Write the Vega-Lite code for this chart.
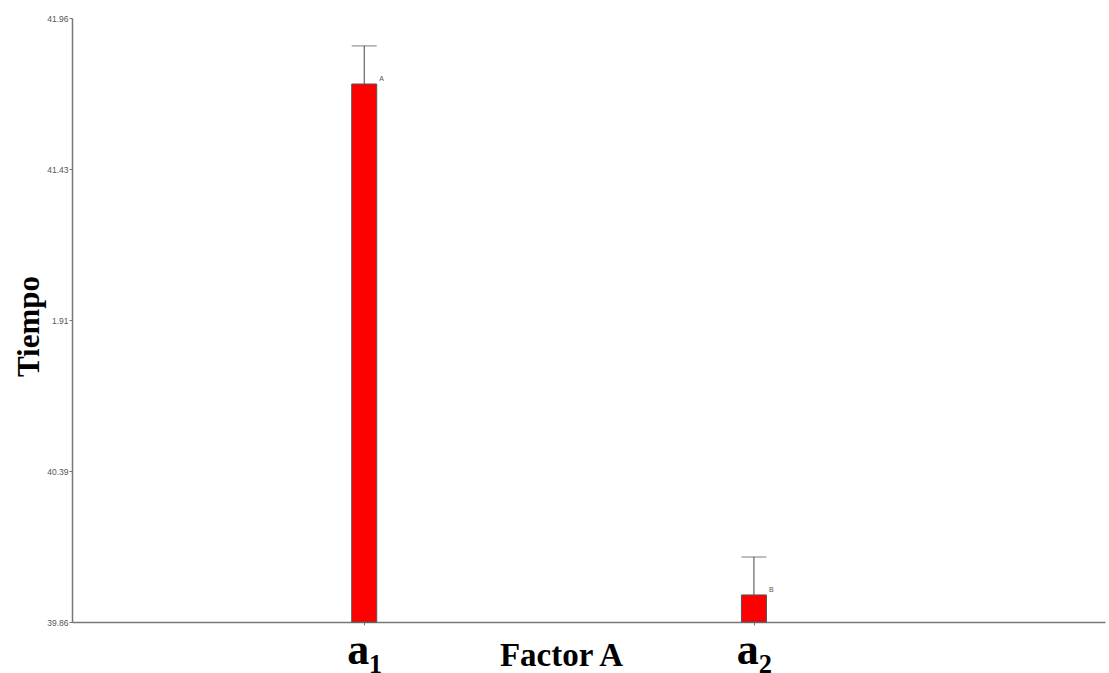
{
  "$schema": "https://vega.github.io/schema/vega-lite/v6.json",
  "autosize": "none",
  "width": 1033,
  "height": 604,
  "padding": {"left": 72, "top": 18, "right": 4, "bottom": 51},
  "background": "white",
  "config": {"view": {"stroke": null}},
  "data": {"values": [
    {"factor": 1, "nivel": "a1", "media": 41.7305, "sup": 41.863, "letra": "A"},
    {"factor": 2, "nivel": "a2", "media": 39.954, "sup": 40.086, "letra": "B"}
  ]},
  "encoding": {
    "x": {
      "field": "factor", "type": "quantitative",
      "scale": {"domain": [0.263, 2.888], "nice": false, "zero": false},
      "axis": {
        "values": [1, 2],
        "labelExpr": "datum.value == 1 ? 'a₁' : 'a₂'",
        "title": "Factor A",
        "grid": false,
        "domainColor": "#777777", "domainWidth": 1.5,
        "tickColor": "#777777", "tickSize": 3,
        "labelFont": "Liberation Serif", "labelFontWeight": "bold", "labelFontSize": 44,
        "labelColor": "#000000", "labelBaseline": "alphabetic", "labelPadding": 38,
        "titleFont": "Liberation Serif", "titleFontWeight": "bold", "titleFontSize": 33,
        "titleColor": "#000000", "titleBaseline": "alphabetic", "titleAlign": "center",
        "titleX": 489, "titleY": 43
      }
    }
  },
  "layer": [
    {
      "mark": {"type": "rule", "color": "#444444", "strokeWidth": 1},
      "encoding": {
        "y": {"field": "media", "type": "quantitative"},
        "y2": {"field": "sup"}
      }
    },
    {
      "mark": {"type": "tick", "orient": "horizontal", "color": "#444444", "size": 25, "thickness": 1},
      "encoding": {
        "y": {"field": "sup", "type": "quantitative"}
      }
    },
    {
      "mark": {"type": "bar", "size": 25, "color": "#FF0000", "stroke": "#555555", "strokeWidth": 1},
      "encoding": {
        "y": {
          "field": "media", "type": "quantitative",
          "scale": {"domain": [39.86, 41.96], "nice": false, "zero": false},
          "axis": {
            "values": [39.86, 40.385, 40.91, 41.435, 41.96],
            "labelExpr": "datum.value < 40 ? '39.86' : datum.value < 40.5 ? '40.39' : datum.value < 41 ? '1.91' : datum.value < 41.5 ? '41.43' : '41.96'",
            "title": "Tiempo",
            "grid": false,
            "domainColor": "#777777", "domainWidth": 1.5,
            "tickColor": "#777777", "tickSize": 3,
            "labelFont": "Liberation Sans", "labelFontSize": 8.5, "labelColor": "#555555",
            "labelPadding": 1,
            "titleFont": "Liberation Serif", "titleFontWeight": "bold", "titleFontSize": 31,
            "titleColor": "#000000", "titleBaseline": "alphabetic", "titleAlign": "center",
            "titleAngle": -90, "titleX": -34, "titleY": 308
          }
        },
        "y2": {"datum": 39.86}
      }
    },
    {
      "mark": {"type": "text", "align": "left", "baseline": "alphabetic", "dx": 15, "dy": -3, "fontSize": 7, "font": "Liberation Sans", "color": "#555555"},
      "encoding": {
        "y": {"field": "media", "type": "quantitative"},
        "text": {"field": "letra"}
      }
    }
  ]
}
